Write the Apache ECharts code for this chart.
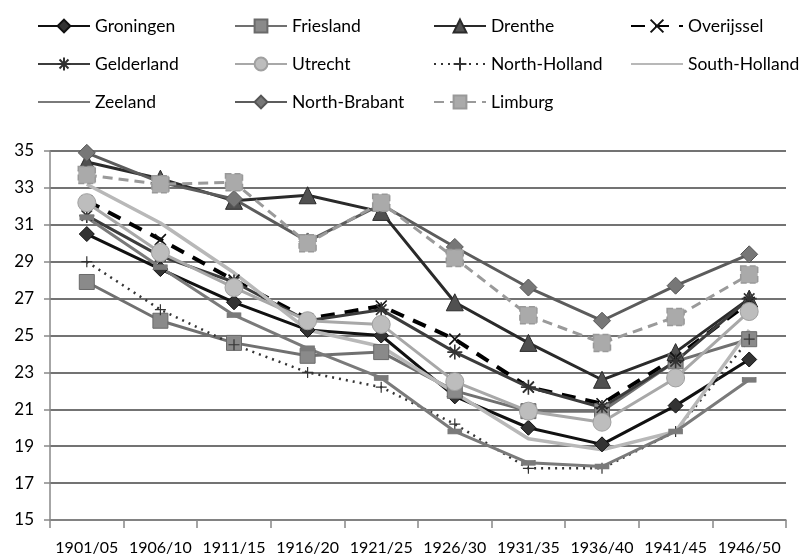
<!DOCTYPE html>
<html>
<head>
<meta charset="utf-8">
<script src="https://cdn.jsdelivr.net/npm/echarts@6/dist/echarts.min.js"></script>
<style>
  html, body { margin: 0; padding: 0; background: #fff; }
  #chart { width: 799px; height: 560px; }
</style>
</head>
<body>
<div id="chart"></div>
<script>
// periods on the x axis
var periods = ['1901/05', '1906/10', '1911/15', '1916/20', '1921/25', '1926/30', '1931/35', '1936/40', '1941/45', '1946/50'];

// values per province
var groningen    = [30.5, 28.6, 26.8, 25.3, 25.0, 21.7, 20.0, 19.1, 21.2, 23.7];
var friesland    = [27.9, 25.8, 24.6, 23.9, 24.1, 22.0, 20.9, 20.9, 23.6, 24.8];
var drenthe      = [34.4, 33.5, 32.3, 32.6, 31.7, 26.8, 24.6, 22.6, 24.1, 27.0];
var overijssel   = [32.3, 30.2, 28.0, 25.9, 26.6, 24.8, 22.2, 21.3, 23.8, 26.8];
var gelderland   = [31.5, 29.3, 27.9, 25.8, 26.4, 24.1, 22.2, 21.1, 23.6, 27.0];
var utrecht      = [32.2, 29.5, 27.6, 25.8, 25.6, 22.5, 20.9, 20.3, 22.7, 26.3];
var northHolland = [29.0, 26.4, 24.5, 23.0, 22.2, 20.2, 17.8, 17.8, 19.8, 24.8];
var southHolland = [33.2, 31.1, 28.4, 25.3, 24.4, 21.9, 19.4, 18.8, 19.8, 25.3];
var zeeland      = [31.4, 28.7, 26.1, 24.3, 22.7, 19.8, 18.1, 17.9, 19.8, 22.6];
var northBrabant = [34.9, 33.3, 32.4, 30.1, 32.1, 29.8, 27.6, 25.8, 27.7, 29.4];
var limburg      = [33.7, 33.2, 33.3, 30.0, 32.2, 29.2, 26.1, 24.6, 26.0, 28.3];

var font = 'Lato, "Open Sans", sans-serif';

// open path markers (stroked only)
var markX = 'path://M0,0L10,10M10,0L0,10';
var markStar = 'path://M5,0L5,10M0,5L10,5M1.5,1.5L8.5,8.5M8.5,1.5L1.5,8.5';
var markPlus = 'path://M5,0L5,10M0,5L10,5';

function mkSeries(name, data, line, sym) {
    var s = {
        name: name,
        type: 'line',
        data: data,
        symbol: sym.symbol || 'none',
        symbolSize: sym.size || 12,
        showSymbol: !!sym.symbol,
        lineStyle: line,
        itemStyle: {
            color: sym.fill || line.color,
            borderColor: sym.border || line.color,
            borderWidth: sym.bw || 1,
            borderType: sym.btype || 'solid'
        },
        emphasis: { disabled: true },
        animation: false
    };
    return s;
}

var series = [
    mkSeries('Groningen', groningen, { color: '#111', width: 3 }, { symbol: 'diamond', size: 15, fill: '#333', border: '#111' }),
    mkSeries('Friesland', friesland, { color: '#707070', width: 3 }, { symbol: 'rect', size: 15, fill: '#8a8a8a', border: '#6a6a6a' }),
    mkSeries('Drenthe', drenthe, { color: '#2a2a2a', width: 3 }, { symbol: 'triangle', size: 17, fill: '#505050', border: '#2a2a2a' }),
    mkSeries('Overijssel', overijssel, { color: '#000', width: 4, type: [14, 10] }, { symbol: markX, size: 11, fill: 'rgba(0,0,0,0)', border: '#111', bw: 1.6 }),
    mkSeries('Gelderland', gelderland, { color: '#3c3c3c', width: 3 }, { symbol: markStar, size: 15, fill: 'rgba(0,0,0,0)', border: '#333', bw: 1.6 }),
    mkSeries('Utrecht', utrecht, { color: '#a8a8a8', width: 3 }, { symbol: 'circle', size: 18, fill: '#bdbdbd', border: '#a0a0a0' }),
    mkSeries('North-Holland', northHolland, { color: '#333', width: 2.5, type: [2, 5] }, { symbol: markPlus, size: 11, fill: 'rgba(0,0,0,0)', border: '#333', bw: 1.2 }),
    mkSeries('South-Holland', southHolland, { color: '#b8b8b8', width: 3.5 }, {}),
    mkSeries('Zeeland', zeeland, { color: '#7a7a7a', width: 3 }, { symbol: 'rect', size: [13, 5], fill: '#7a7a7a' }),
    mkSeries('North-Brabant', northBrabant, { color: '#5c5c5c', width: 3 }, { symbol: 'diamond', size: 17, fill: '#777', border: '#555' }),
    mkSeries('Limburg', limburg, { color: '#9a9a9a', width: 3, type: [10, 6] }, { symbol: 'rect', size: 17, fill: '#aaa', border: '#999', btype: 'dashed', bw: 1.5 })
];

// legend items drawn as a plain line (no marker)
var plainLine = ['South-Holland', 'Zeeland'];

// one vertical legend per column
var legendCols = [
    ['Groningen', 'Gelderland', 'Zeeland'],
    ['Friesland', 'Utrecht', 'North-Brabant'],
    ['Drenthe', 'North-Holland', 'Limburg'],
    ['Overijssel', 'South-Holland']
];
var legendLeft = [32, 229, 428, 625];

var legends = legendCols.map(function(col, i) {
    return {
        orient: 'vertical',
        left: legendLeft[i],
        top: 12,
        itemWidth: 52,
        itemHeight: 16,
        itemGap: 20,
        data: col.map(function(n) {
            if (plainLine.indexOf(n) >= 0) {
                return { name: n, itemStyle: { opacity: 0 } };
            }
            return n;
        }),
        selectedMode: false,
        textStyle: { fontFamily: font, fontSize: 17.5, color: '#000' }
    };
});

var option = {
    backgroundColor: '#fff',
    legend: legends,
    grid: { left: 50, right: 13, top: 151, bottom: 40 },
    xAxis: {
        type: 'category',
        data: periods,
        boundaryGap: true,
        axisLine: { lineStyle: { color: '#888', width: 1.5 } },
        axisTick: { show: true, length: 8, lineStyle: { color: '#888', width: 1.5 } },
        axisLabel: { interval: 0, fontFamily: font, fontSize: 16, color: '#000', margin: 20 }
    },
    yAxis: {
        type: 'value',
        min: 15,
        max: 35,
        interval: 2,
        axisLine: { show: true, lineStyle: { color: '#888', width: 1.5 } },
        axisTick: { show: true, length: 6, lineStyle: { color: '#888', width: 1.5 } },
        axisLabel: { fontFamily: font, fontSize: 17, color: '#000', margin: 16 },
        splitLine: { lineStyle: { color: '#444', width: 1.5 } }
    },
    series: series
};

var myChart = echarts.init(document.getElementById('chart'));
myChart.setOption(option);
</script>
</body>
</html>
